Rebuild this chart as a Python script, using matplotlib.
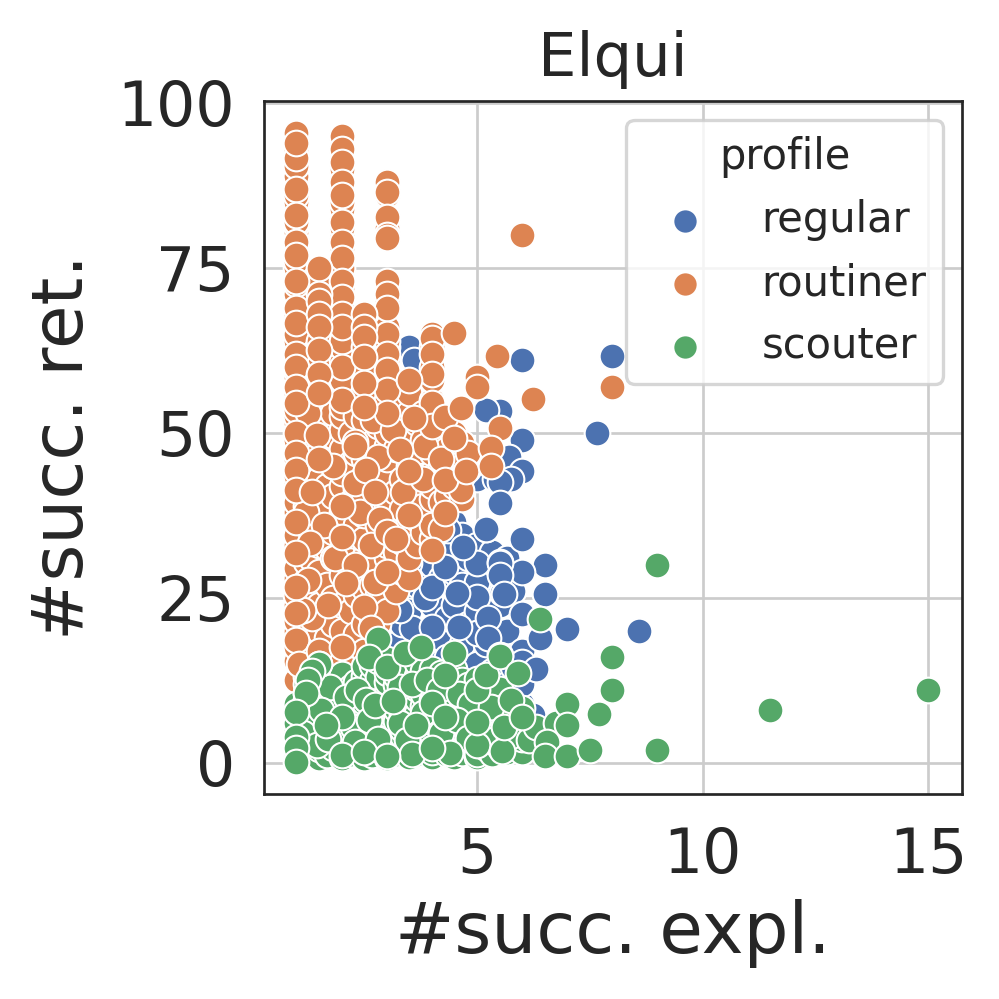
#!/usr/bin/env python3
import matplotlib
matplotlib.use("Agg")
import matplotlib.pyplot as plt
import seaborn as sns

# columns of overlapping points, bottom of the heap (values read by eye)
column_x = [1, 1.2, 1.33, 1.5, 1.67, 1.8, 2, 2.2, 2.33, 2.5, 2.67, 2.8, 3, 3.2, 3.33, 3.5, 3.67, 3.8, 4, 4.2, 4.33,
            4.5, 4.67, 4.8, 5, 5.2, 5.33, 5.5, 5.67, 5.8, 6]

regular_heap = [
    [], [], [], [], [], [], [13, 16.5], [11, 18.2], [9, 15], [7, 12.5, 19], [6, 16, 21.3], [4.5, 10, 19, 23],
    [3, 8, 13, 24, 26], [2.5, 11, 18, 27.5], [5, 15, 21, 25], [2, 9, 13, 23, 29], [4, 17, 27, 31.5], [6, 12, 20, 33],
    [2, 8, 15, 24, 30, 35.6], [3.5, 11, 19, 28, 37], [7, 16, 22, 33, 38.4], [2, 10, 14, 24, 29, 36.5, 46.5],
    [4, 18, 27, 34.5], [6, 12, 21, 31, 44], [2, 8, 15, 23, 33, 43], [4, 11, 18, 27], [7, 14, 20.5, 32],
    [2.5, 9, 17, 24, 45], [5, 12, 20, 31], [3, 14.5, 26], [3, 6.5, 9, 12, 17],
]
routiner_heap = [
    [12.5, 15.5, 17.5, 20, 21.5, 24, 25.5, 28, 29.5, 33, 34.5, 38, 39.5, 42.5, 43.5, 46, 48, 49, 51.5, 52.5, 53.5, 55.5, 56, 58.5, 59.5, 61, 63, 64, 65, 67.5, 68, 70.5, 71, 72.5, 74, 75, 76, 78, 80.5, 81.5, 82, 84, 85, 86, 88, 89, 90.5, 92.5, 93, 95.5],
    [13, 15, 18.5, 22, 24.5, 27.5, 30.5, 36, 39, 43, 47.5, 50.5],
    [14.5, 17, 20.5, 26, 31, 35.5, 40, 44.5, 48.5, 51.5],
    [14, 16.5, 20, 24, 29, 33, 37.5, 43, 47, 52, 54, 57.5, 60.5, 64, 67, 69, 72, 73.5],
    [15, 19, 22.5, 27, 32.5, 38, 42, 46, 51],
    [15.5, 21, 25, 31, 35, 40.5, 45, 49.5, 53],
    [16, 20, 24, 28.5, 31.5, 35.5, 38, 42, 44, 47.5, 50.5, 52.5, 54, 57, 58, 61, 63, 64, 67, 69, 71, 72, 74, 75, 78, 80, 81, 83, 84, 85, 87, 89, 90, 92, 94],
    [18, 23, 29, 34.5, 39.5, 45.5, 50],
    [19.5, 25.5, 30, 36, 41.5, 47, 52.5],
    [17, 21, 26.5, 31, 34, 37.5, 40, 43.5, 46, 49, 52, 55, 56.5, 59, 60, 63, 65, 67],
    [22, 27, 32, 38, 42.5, 48.5, 53],
    [21, 25.5, 30.5, 36, 39.5, 45, 51, 54.5],
    [23, 28, 31, 33, 37, 39, 42, 44, 46, 48, 50, 52, 55, 58, 61, 63, 64, 66, 70, 72, 81, 86],
    [26, 32, 36, 41, 47.5, 53.5],
    [29, 33.5, 38.5, 43, 49.5, 55],
    [28, 31, 36.5, 42, 45, 47, 50, 53, 56],
    [33, 37, 41, 46, 51.5],
    [35, 39, 43.5, 49, 53],
    [34, 36, 40, 42, 44, 47, 49, 52, 53, 55, 58, 60, 63],
    [35.5, 39.5, 45, 50.5],
    [40.5, 44, 47.5, 51],
    [42, 44.5, 46.5, 50],
    [40, 43.5, 48.5],
    [44.5, 47],
    [], [], [], [], [], [], [],
]
scouter_heap = [
    [1, 1.5, 3, 5, 6, 9],
    [1.2, 2.4, 5.2, 6.4, 7.5, 9.5, 10.6, 12],
    [1.5, 3.2, 4.4, 6.5, 8.2, 9.4, 11.5, 13.2],
    [0.8, 2.1, 4.5, 5.3, 7.1, 8.6, 10.2, 12.2, 13.6, 15],
    [1.2, 3, 4.2, 6.2, 7.6, 9.4, 11.2, 12.7],
    [2.3, 3.7, 5.2, 7.3, 8.3, 10.3, 12],
    [0.8, 1.6, 3.4, 5.5, 6.4, 8.4, 9.3, 11.2, 12.6, 13.5],
    [1.3, 2.6, 4.4, 7.4, 8.6, 10.2, 11.5],
    [2, 3.6, 5.6, 6.6, 9.2, 10.8, 12.2],
    [0.8, 1.9, 3.2, 4.7, 6.3, 7.7, 9.2, 10.5, 11.6, 13.2, 14.7],
    [1.2, 2.7, 5.3, 7.2, 8.7, 11, 12.4, 14.8],
    [2.1, 3.3, 4.3, 6.2, 8.1, 9.7, 11.5, 13, 15.5],
    [0.8, 2.2, 4.7, 5.6, 7.4, 9, 10.8, 12.3, 13.6, 15.8],
    [1.3, 3.2, 6.3, 8.2, 10.2, 11.8, 13.2],
    [2.2, 4.3, 5.2, 7.3, 9.2, 11.4, 12.8, 15],
    [0.9, 1.8, 3.7, 6.6, 8.4, 10, 12.2, 14.2],
    [1.4, 2.9, 4.7, 7.6, 9.7, 11.2, 13.2, 15.2, 17],
    [2.3, 5.3, 6.5, 8.7, 10.4, 12.5, 14],
    [0.9, 1.6, 3.6, 4.4, 6.2, 7.7, 9.6, 11.2, 12.6, 14.3],
    [2.2, 5.7, 8.2, 10.2, 11.8, 13.7],
    [1.3, 3.3, 4.8, 6.8, 9.3, 12.3],
    [0.9, 2.4, 4.2, 7.6, 8.7, 10.4, 11.6, 14.2],
    [1.5, 3.6, 5.2, 6.3, 8.2, 9.7, 12.6],
    [2.7, 4.7, 7.2, 10.2, 11.8],
    [0.9, 1.4, 3.7, 5.2, 8.2, 9.2, 10.4, 12.8],
    [2.2, 4.2, 6.2, 7.4, 9.4, 11.7],
    [1.3, 3.4, 5.4, 8.4, 10.2],
    [2.3, 4.7, 6.4, 7.6, 9.8, 11.2],
    [1.6, 3.7, 8.8],
    [2.7, 4.4, 6.7],
    [1.6, 3.6, 5.4, 8.4],
]

# top of the heap: points that can be told apart in the picture
regular_x = [3.85, 4.35, 5.2, 5.5, 5, 5.55, 5.5, 5, 3.55, 4, 4.6, 3.3, 5, 4.55, 4, 3.5, 4.3, 5, 4.7, 5.5,
             5.25, 4.4, 5.4, 5.7, 3, 3.5, 3.6, 6, 8, 5.5, 5.2, 7.65, 6, 5.7, 6, 5.75, 5.5, 5.5, 5.2, 6, 6.5, 6,
             5.5, 5.5, 5.6, 6.5, 6, 7, 8.6, 6.4, 6, 6.3, 5.25, 6.25, 6]
regular_y = [25, 35.3, 35.5, 39.4, 27.4, 25.8, 28.8, 19.7, 20.4, 20.6, 20.6, 23.2, 25.2, 25.8, 26.7, 30.3, 29.7, 30.3, 32.7, 30.5,
             22, 47.4, 43, 43.3, 65, 63, 61, 61, 61.7, 53.4, 53.5, 50, 49, 46.4, 44.3, 43, 42.6, 39.4, 35.5, 34, 30, 29,
             30.3, 28.5, 25.6, 25.6, 22.6, 20.3, 20, 19, 15.3, 14.2, 19, 7.3, 2.5]

routiner_x = [1.2, 1.6, 1.85, 2.4, 2.65, 1.35, 1.7, 2.3, 2.85, 3.35, 3.85, 4.2, 1.8, 1.25, 2.7, 3.15, 3.8,
              1, 1, 1, 1, 1, 1, 1, 1, 1, 1, 1, 1, 1, 1,
              2, 2, 2, 2, 2, 2, 2, 2, 2, 2, 2, 2, 2, 2,
              3, 3, 3, 3, 3, 3, 3, 3, 3, 3, 3, 3, 3,
              1.5, 1.5, 1.5, 1.5, 1.5, 1.5, 1.5, 1.5,
              2.5, 2.5, 2.5, 2.5, 2.5, 2.5,
              4, 4, 4, 4, 4, 4, 4.5, 5, 5, 3.5, 2.3, 1.45, 3.6, 4.3, 4.65, 4.5,
              1, 1, 1, 1.5, 1.35, 2.3, 2.3, 2.8, 3.3, 3.5, 2.55, 2.75, 2, 1, 2, 1.3, 3, 3.5, 4.3, 4.65, 4.3, 4.75, 4,
              2.75, 2.1, 1.25, 1.15, 2.5, 1, 1.05, 1.5, 2, 2.65, 3, 3.2, 1, 1, 1,
              5.45, 6.25, 8, 5.5, 5.3, 5.3, 6]
routiner_y = [38, 36, 31, 38, 33, 22, 24, 30, 37, 41, 48, 46, 45, 53, 52, 50.5, 43,
              91.6, 87, 83, 79, 77, 73, 69, 66.6, 62, 60, 57, 54.5, 50, 94,
              95, 93, 91, 88, 86, 82, 79, 76.5, 73, 70.6, 68, 66, 60, 55,
              88, 86.5, 82.7, 80, 73, 71, 69, 65, 62, 59.6, 56.5, 53, 79.5,
              75, 71, 70, 68, 66, 62.6, 59, 56,
              68, 66, 64.5, 61.5, 57.5, 54,
              65, 64.4, 62, 59, 54.5, 51, 65.2, 58.5, 57, 58, 48.6, 49.7, 52.3, 52.4, 53.8, 49.3,
              47, 44.4, 41.4, 46, 41, 48, 42.4, 46.4, 47.4, 44.3, 44.4, 41, 39, 36.5, 34.3, 33.3, 35, 37.6, 37.9, 41.4, 42.9, 44.3, 32.3,
              27.4, 27.3, 27.7, 23.2, 23.6, 18.6, 15, 17, 17.6, 20.4, 29, 34, 26.7, 22.7, 31.8,
              61.7, 55.2, 57, 50.7, 47.7, 45, 80]

scouter_x = [1.2, 1.45, 1.75, 2.1, 2.35, 2.55, 3.3, 3.55, 3.9, 4.15, 4.6, 4.85, 1.3, 1.55, 1.85, 2.25, 2.6, 3.3, 3.45, 3.8,
             4.2, 4.55, 4.8, 5.3, 5.35, 5.75, 5.7, 6.15, 6.3, 6.75, 1.15, 1.45, 2.3, 3.55, 4.4,
             1.5, 1.35, 1.25, 1.2, 2.8, 2.6, 3, 3.4, 4.5, 3.75, 4.3, 5.5, 5, 5.2, 2.75, 3.15, 4, 3.65, 2.8, 4, 5, 5, 5.55, 5.6,
             1, 1, 1, 1, 1.7, 2, 2, 1.65, 2.5, 3, 4.3,
             9, 6.4, 8, 8, 5.5, 5.9, 7.7, 7, 7, 6, 6.55, 6.5, 7, 7.5, 9, 11.5, 15]
scouter_y = [9, 10.5, 11.5, 10, 11, 9.5, 11.5, 12, 12.5, 11, 10.5, 9, 6, 8, 4.6, 5.5, 6.5, 6, 3.5, 7.5,
             4.5, 6.5, 3.8, 8.5, 3.5, 9.5, 4, 3.5, 5.5, 6, 4.5, 2.8, 3.2, 1.3, 1.5,
             15, 14, 12.6, 10.6, 18.8, 16, 14.5, 16.6, 16.6, 17.6, 13.3, 16.4, 11, 13.3, 8.8, 9.4, 9.1, 5.8, 3.6, 2.2, 2.8, 6.2, 1.8, 5.5,
             7.7, 4, 2.2, 0.1, 3.7, 1.2, 7, 5.8, 1.7, 1, 7,
             30, 21.8, 16, 11, 16.2, 13.6, 7.4, 9, 5.8, 7, 3.2, 1, 1, 2, 2, 8, 11]

profiles = ["regular", "routiner", "scouter"]
colors = ["#4c72b0", "#dd8452", "#55a868"]
tick_x = [5, 10, 15]
tick_y = [0, 25, 50, 75, 100]


def unroll(heap):
    xs = []
    ys = []
    for x, column in zip(column_x, heap):
        for y in column:
            xs.append(x)
            ys.append(y)
    return xs, ys


def main():
    sns.set_theme(style="whitegrid")
    fig = plt.figure(figsize=(3.33, 3.33), dpi=300)
    ax = fig.add_axes([264 / 999, 1 - 794 / 999, 698 / 999, 693 / 999])

    heaps = [regular_heap, routiner_heap, scouter_heap]
    tops = [(regular_x, regular_y), (routiner_x, routiner_y), (scouter_x, scouter_y)]
    for name, color, heap, top in zip(profiles, colors, heaps, tops):
        xs, ys = unroll(heap)
        ax.scatter(xs + top[0], ys + top[1], s=38, color=color, edgecolor="white", linewidth=0.5, label=name, zorder=3)

    ax.set_xlim(0.28, 15.75)
    ax.set_ylim(-4.7, 100.3)
    ax.set_xticks(tick_x)
    ax.set_yticks(tick_y)
    ax.tick_params(axis="x", labelsize=14.8, pad=7.7, length=0)
    ax.tick_params(axis="y", labelsize=14.8, pad=7, length=0)
    ax.set_xlabel("#succ. expl.", fontsize=17, labelpad=3, color=".15")
    ax.set_ylabel("#succ. ret.", fontsize=17, labelpad=4.7, color=".15")
    ax.set_title("Elqui", fontsize=14.6, pad=6, color=".15")
    ax.grid(True, color=".8", linewidth=0.65)
    for spine in ax.spines.values():
        spine.set_color(".15")
        spine.set_linewidth(0.65)

    legend = ax.legend(title="profile", loc="upper right", fontsize=10, title_fontsize=10, markerscale=0.95,
                       handletextpad=0.85, borderaxespad=0.45, labelspacing=0.5, framealpha=0.8)
    legend.get_frame().set_linewidth(0.8)
    legend.get_frame().set_edgecolor(".8")

    fig.savefig("out.png", dpi=300)


if __name__ == "__main__":
    main()
